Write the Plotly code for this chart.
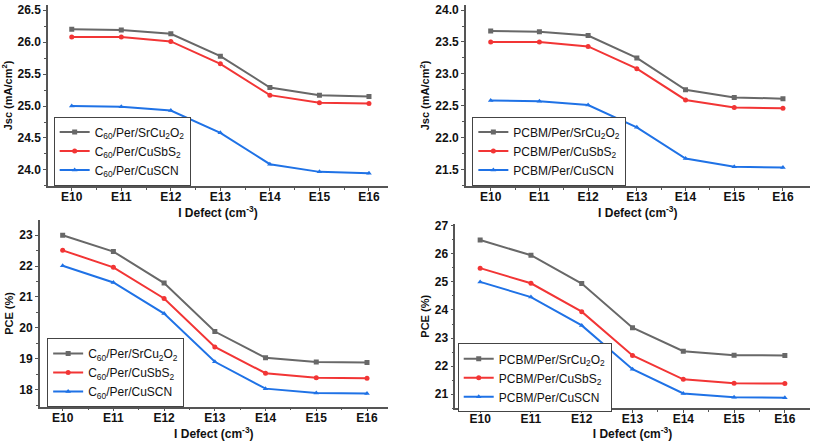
import plotly.graph_objects as go

categories = ["E10", "E11", "E12", "E13", "E14", "E15", "E16"]

# Top-left: Jsc, C60 ETL
jsc_c60_srcu2o2 = [26.20, 26.19, 26.13, 25.78, 25.29, 25.17, 25.15]
jsc_c60_cusbs2 = [26.08, 26.08, 26.01, 25.66, 25.17, 25.05, 25.04]
jsc_c60_cuscn = [25.00, 24.99, 24.93, 24.58, 24.09, 23.97, 23.95]

# Top-right: Jsc, PCBM ETL
jsc_pcbm_srcu2o2 = [23.67, 23.66, 23.60, 23.25, 22.75, 22.63, 22.61]
jsc_pcbm_cusbs2 = [23.50, 23.50, 23.43, 23.08, 22.59, 22.47, 22.46]
jsc_pcbm_cuscn = [22.58, 22.57, 22.51, 22.16, 21.67, 21.54, 21.53]

# Bottom-left: PCE, C60 ETL
pce_c60_srcu2o2 = [23.00, 22.47, 21.45, 19.88, 19.03, 18.89, 18.88]
pce_c60_cusbs2 = [22.51, 21.96, 20.95, 19.38, 18.53, 18.38, 18.37]
pce_c60_cuscn = [22.01, 21.47, 20.46, 18.90, 18.03, 17.89, 17.87]

# Bottom-right: PCE, PCBM ETL
pce_pcbm_srcu2o2 = [26.49, 25.95, 24.94, 23.37, 22.53, 22.39, 22.38]
pce_pcbm_cusbs2 = [25.49, 24.95, 23.94, 22.38, 21.53, 21.39, 21.38]
pce_pcbm_cuscn = [25.00, 24.46, 23.45, 21.89, 21.03, 20.89, 20.88]

names_c60 = ["C<sub>60</sub>/Per/SrCu<sub>2</sub>O<sub>2</sub>",
             "C<sub>60</sub>/Per/CuSbS<sub>2</sub>",
             "C<sub>60</sub>/Per/CuSCN"]
names_pcbm = ["PCBM/Per/SrCu<sub>2</sub>O<sub>2</sub>",
              "PCBM/Per/CuSbS<sub>2</sub>",
              "PCBM/Per/CuSCN"]

colors = ["#686868", "#f23535", "#1f72e6"]
symbols = ["square", "circle", "triangle-up"]

xi = list(range(len(categories)))
FONT = "Liberation Sans, Arial, sans-serif"

panels = [
    dict(series=[jsc_c60_srcu2o2, jsc_c60_cusbs2, jsc_c60_cuscn], names=names_c60,
         xd=[0.059, 0.477], yd=[0.585, 1.0], xr=[-0.48, 6.38], yr=[23.75, 26.58],
         dtick=0.5, fmt=".1f", ytitle="Jsc (mA/cm<sup>2</sup>)", leg=(0.066, 0.744)),
    dict(series=[jsc_pcbm_srcu2o2, jsc_pcbm_cusbs2, jsc_pcbm_cuscn], names=names_pcbm,
         xd=[0.573, 0.996], yd=[0.585, 1.0], xr=[-0.51, 6.55], yr=[21.24, 24.08],
         dtick=0.5, fmt=".1f", ytitle="Jsc (mA/cm<sup>2</sup>)", leg=(0.581, 0.744)),
    dict(series=[pce_c60_srcu2o2, pce_c60_cusbs2, pce_c60_cuscn], names=names_c60,
         xd=[0.049, 0.477], yd=[0.079, 0.506], xr=[-0.45, 6.41], yr=[17.45, 23.48],
         dtick=1, fmt="d", ytitle="PCE (%)", leg=(0.058, 0.236)),
    dict(series=[pce_pcbm_srcu2o2, pce_pcbm_cusbs2, pce_pcbm_cuscn], names=names_pcbm,
         xd=[0.560, 0.996], yd=[0.075, 0.497], xr=[-0.49, 6.49], yr=[20.5, 27.05],
         dtick=1, fmt="d", ytitle="PCE (%)", leg=(0.563, 0.224)),
]

fig = go.Figure()
layout = dict(
    width=813, height=441,
    margin=dict(l=0, r=0, t=0, b=0),
    paper_bgcolor="white", plot_bgcolor="white",
    showlegend=True,
)

for i, p in enumerate(panels, start=1):
    sfx = "" if i == 1 else str(i)
    legname = "legend" if i == 1 else f"legend{i}"
    for s, name, c, sym in zip(p["series"], p["names"], colors, symbols):
        fig.add_trace(go.Scatter(
            x=xi, y=s, name=name, mode="lines+markers",
            line=dict(color=c, width=2),
            marker=dict(symbol=sym, size=5, color=c),
            xaxis=f"x{sfx}", yaxis=f"y{sfx}", legend=legname,
        ))
    layout[f"xaxis{sfx}"] = dict(
        domain=p["xd"], anchor=f"y{sfx}", range=p["xr"],
        tickmode="array", tickvals=xi, ticktext=[f"<b>{c}</b>" for c in categories],
        showline=True, linecolor="#555555", linewidth=1.5,
        ticks="outside", ticklen=3, tickcolor="#555555", tickwidth=1,
        ticklabelstandoff=-4,
        minor=dict(tickvals=[v + 0.5 for v in xi[:-1]], ticks="outside", ticklen=2,
                   tickcolor="#555555"),
        showgrid=False, zeroline=False,
        tickfont=dict(family=FONT, size=12, color="#111111"),
        title=dict(text="<b>I Defect (cm<sup>-3</sup>)</b>", standoff=0,
                   font=dict(family=FONT, size=12, color="#111111")),
    )
    layout[f"yaxis{sfx}"] = dict(
        domain=p["yd"], anchor=f"x{sfx}", range=p["yr"],
        dtick=p["dtick"], tick0=0, tickformat=p["fmt"],
        showline=True, linecolor="#555555", linewidth=1.5,
        ticks="outside", ticklen=3, tickcolor="#555555", tickwidth=1,
        minor=dict(dtick=p["dtick"] / 2, ticks="outside", ticklen=2, tickcolor="#555555"),
        showgrid=False, zeroline=False,
        tickfont=dict(family=FONT, size=12, color="#111111", weight="bold"),
        title=dict(text=f"<b>{p['ytitle']}</b>", standoff=3,
                   font=dict(family=FONT, size=11, color="#111111")),
    )
    layout[legname] = dict(
        x=p["leg"][0], y=p["leg"][1], xanchor="left", yanchor="top",
        xref="paper", yref="paper",
        bgcolor="white", bordercolor="#444444", borderwidth=1,
        font=dict(family=FONT, size=12, color="#111111"),
        tracegroupgap=0, itemwidth=30,
    )

fig.update_layout(**layout)
fig.write_html("out.html")
